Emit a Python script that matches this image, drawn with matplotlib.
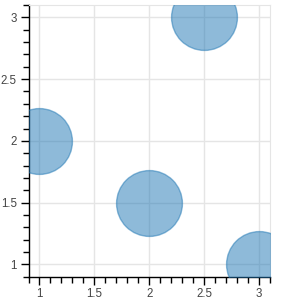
import numpy as np
import matplotlib.pyplot as plt
from matplotlib.ticker import MultipleLocator

plt.rcParams['font.family'] = ['Liberation Sans', 'DejaVu Sans']

# data
x = [1, 2, 2.5, 3]
y = [2, 1.5, 3, 1]
radius = 0.3  # in x data units

fig = plt.figure(figsize=(3, 3), dpi=100)
ax = fig.add_axes([0.095, 0.078, 0.805, 0.905])
ax.set_xlim(0.9, 3.1)
ax.set_ylim(0.9, 3.1)

# circle size in points from the x scale
px_per_unit = ax.transData.transform((1, 0))[0] - ax.transData.transform((0, 0))[0]
diam_pt = 2 * radius * px_per_unit * 72.0 / fig.dpi
ax.scatter(x, y, s=diam_pt ** 2, facecolor='#1f77b4', edgecolor='#1f77b4',
           alpha=0.5, linewidths=1, zorder=3)

ax.xaxis.set_major_locator(MultipleLocator(0.5))
ax.yaxis.set_major_locator(MultipleLocator(0.5))
ax.xaxis.set_minor_locator(MultipleLocator(0.1))
ax.yaxis.set_minor_locator(MultipleLocator(0.1))
fmt = lambda v, p: ('%g' % v)
ax.xaxis.set_major_formatter(plt.FuncFormatter(fmt))
ax.yaxis.set_major_formatter(plt.FuncFormatter(fmt))

ax.grid(True, which='major', color='#e5e5e5', lw=1, zorder=0)
ax.set_axisbelow(True)

for s in ['top', 'right']:
    ax.spines[s].set_color('#e5e5e5')
for s in ['left', 'bottom']:
    ax.spines[s].set_color('black')
    ax.spines[s].set_linewidth(1)

ax.tick_params(which='major', direction='out', length=6, width=1, color='black',
               labelsize=8.3, labelcolor='#444444', pad=2.5)
ax.tick_params(which='minor', direction='out', length=4, width=1, color='black')

plt.savefig('out.png', dpi=100)
